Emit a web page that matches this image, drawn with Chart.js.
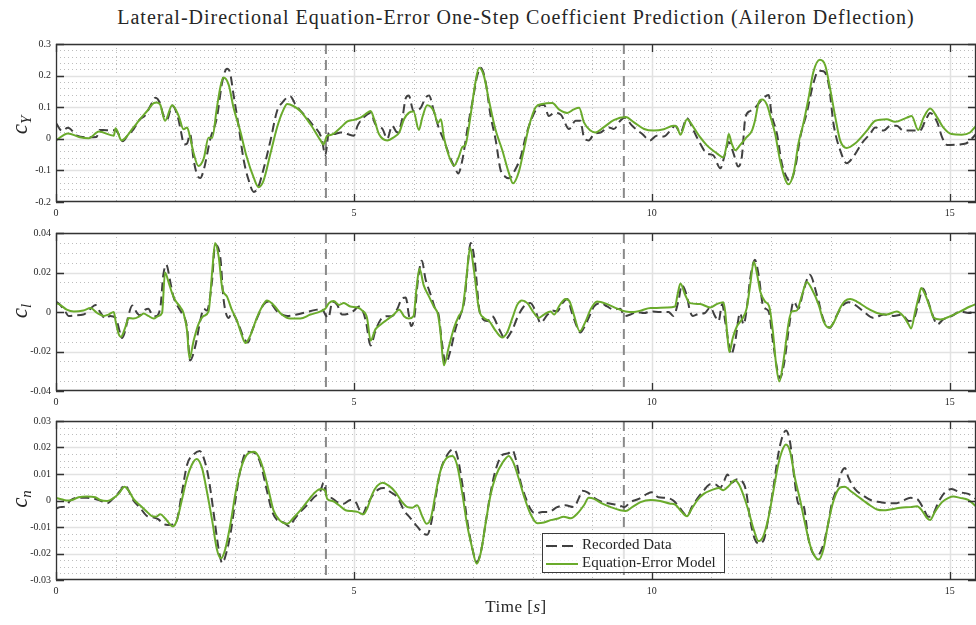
<!DOCTYPE html>
<html>
<head>
<meta charset="utf-8">
<script src="https://cdn.jsdelivr.net/npm/chart.js@4.4.1/dist/chart.umd.min.js"></script>
<style>
  html, body { margin: 0; padding: 0; background: #fff; }
  body { width: 976px; height: 625px; position: relative; overflow: hidden; font-family: 'Liberation Serif', serif; color: #262626; }
  canvas { position: absolute; left: 0; }
  #title { position: absolute; top: 6px; left: 56px; width: 920px; text-align: center; font-size: 20px; letter-spacing: 1px; white-space: nowrap; }
  .ylab { position: absolute; width: 60px; height: 30px; line-height: 30px; text-align: center; font-size: 23px; transform: rotate(-90deg); white-space: nowrap; }
  .ylab sub { font-size: 15px; vertical-align: -4px; }
  #xlab { position: absolute; top: 597px; left: 56px; width: 920px; text-align: center; font-size: 17px; letter-spacing: 0.5px; }
  #legend { position: absolute; left: 542px; top: 533px; width: 183px; height: 40px; border: 1.3px solid #3a3a3a; background: rgba(255,255,255,0.75); box-sizing: border-box; font-size: 15px; }
  #legend .row { position: absolute; left: 3px; height: 18px; line-height: 18px; white-space: nowrap; }
  #legend svg { vertical-align: middle; margin-right: 4px; }
</style>
</head>
<body>
<div id="title">Lateral-Directional Equation-Error One-Step Coefficient Prediction (Aileron Deflection)</div>
<canvas id="cyChart" width="976" height="193" style="top:33px"></canvas>
<canvas id="clChart" width="976" height="193" style="top:222px"></canvas>
<canvas id="cnChart" width="976" height="194" style="top:410px"></canvas>
<div class="ylab" style="left:-10px; top:110px;"><i>c</i><sub><i>Y</i></sub></div>
<div class="ylab" style="left:-10px; top:296px;"><i>c</i><sub><i>l</i></sub></div>
<div class="ylab" style="left:-10px; top:484px;"><i>c</i><sub><i>n</i></sub></div>
<div id="xlab">Time [<i>s</i>]</div>
<div id="legend">
  <div class="row" style="top:1px"><svg width="32" height="10"><line x1="0" y1="5" x2="32" y2="5" stroke="#404040" stroke-width="2" stroke-dasharray="11,5"/></svg>Recorded Data</div>
  <div class="row" style="top:19px"><svg width="32" height="10"><line x1="0" y1="5" x2="32" y2="5" stroke="#6aab2c" stroke-width="2"/></svg>Equation-Error Model</div>
</div>
<script>
// Time axis
const timeMax = 15.44;
const timeTicks = [0, 5, 10, 15];
const timeTickLabels = ['0', '5', '10', '15'];
const segmentBreaks = [4.53, 9.53];

// Side-force coefficient c_Y: [time s, value]
const cyRecorded = [[0,0.05],[0.1,0.025],[0.2,0.035],[0.35,0.01],[0.5,0.005],[0.68,0.006],[0.73,0.028],[0.85,0.027],[1.0,0.027],[1.05,0.015],[1.12,-0.008],[1.2,0.01],[1.3,0.03],[1.4,0.06],[1.5,0.075],[1.6,0.11],[1.67,0.13],[1.75,0.11],[1.8,0.075],[1.86,0.06],[1.95,0.105],[2.05,0.065],[2.1,0.02],[2.15,-0.018],[2.2,-0.015],[2.25,0.015],[2.31,-0.067],[2.37,-0.115],[2.42,-0.124],[2.48,-0.098],[2.59,0.0],[2.7,0.067],[2.79,0.18],[2.87,0.222],[2.92,0.21],[2.98,0.139],[3.06,0.046],[3.15,-0.067],[3.23,-0.129],[3.32,-0.168],[3.4,-0.15],[3.48,-0.098],[3.6,-0.005],[3.71,0.088],[3.79,0.113],[3.93,0.135],[4.02,0.108],[4.16,0.077],[4.3,0.046],[4.46,0.0],[4.52,-0.052],[4.58,0.02],[4.66,0.015],[4.78,0.02],[4.89,0.015],[5.0,0.01],[5.06,0.041],[5.17,0.069],[5.28,0.082],[5.36,0.046],[5.48,0.031],[5.56,0.0],[5.64,0.041],[5.73,0.02],[5.81,0.062],[5.87,0.129],[5.92,0.137],[6.0,0.088],[6.12,0.098],[6.2,0.129],[6.26,0.137],[6.34,0.088],[6.43,0.031],[6.51,-0.005],[6.62,-0.062],[6.71,-0.098],[6.75,-0.11],[6.82,-0.067],[6.9,0.026],[6.99,0.118],[7.07,0.2],[7.13,0.225],[7.21,0.18],[7.29,0.077],[7.38,-0.005],[7.46,-0.098],[7.54,-0.12],[7.6,-0.125],[7.7,-0.1],[7.8,-0.057],[7.88,0.005],[7.99,0.067],[8.1,0.103],[8.19,0.108],[8.27,0.072],[8.36,0.082],[8.47,0.077],[8.61,0.031],[8.72,0.057],[8.8,0.057],[8.86,0.005],[8.94,-0.005],[9.03,0.015],[9.14,0.02],[9.28,0.036],[9.36,0.031],[9.47,0.057],[9.54,0.067],[9.67,0.041],[9.84,0.015],[9.97,-0.005],[10.08,0.01],[10.2,0.007],[10.31,0.026],[10.39,0.041],[10.48,0.02],[10.59,0.065],[10.7,0.026],[10.81,-0.015],[10.92,-0.046],[11.03,-0.052],[11.15,-0.093],[11.23,-0.046],[11.29,-0.01],[11.37,-0.046],[11.45,-0.088],[11.51,-0.057],[11.57,0.067],[11.65,0.088],[11.73,0.098],[11.82,0.118],[11.96,0.139],[12.01,0.077],[12.1,0.015],[12.18,-0.077],[12.27,-0.124],[12.32,-0.134],[12.41,-0.088],[12.49,0.005],[12.6,0.082],[12.71,0.175],[12.8,0.215],[12.88,0.214],[12.97,0.17],[13.05,0.046],[13.16,-0.036],[13.27,-0.077],[13.38,-0.057],[13.52,-0.015],[13.66,0.015],[13.75,0.036],[13.89,0.026],[14.0,0.041],[14.11,0.041],[14.22,0.026],[14.39,0.026],[14.5,0.026],[14.59,0.057],[14.67,0.082],[14.79,0.052],[14.87,0.005],[14.96,-0.02],[15.13,-0.018],[15.27,-0.015],[15.34,-0.005],[15.44,0.015]];
const cyModel = [[0,-0.005],[0.2,0.017],[0.4,0.005],[0.55,0.002],[0.72,0.023],[0.97,0.01],[1.0,0.033],[1.1,-0.005],[1.3,0.036],[1.41,0.062],[1.53,0.088],[1.64,0.113],[1.69,0.115],[1.75,0.108],[1.83,0.057],[1.95,0.106],[2.06,0.072],[2.14,0.03],[2.2,0.036],[2.25,0.005],[2.31,-0.046],[2.39,-0.086],[2.48,-0.062],[2.56,0.003],[2.62,0.003],[2.7,0.098],[2.76,0.165],[2.81,0.194],[2.9,0.17],[2.98,0.098],[3.09,0.026],[3.2,-0.057],[3.32,-0.124],[3.4,-0.153],[3.48,-0.134],[3.6,-0.046],[3.71,0.036],[3.82,0.093],[3.88,0.11],[3.99,0.103],[4.1,0.088],[4.27,0.046],[4.44,-0.005],[4.49,-0.018],[4.55,0.01],[4.61,0.012],[4.78,0.036],[4.89,0.055],[5.0,0.06],[5.11,0.067],[5.2,0.079],[5.28,0.088],[5.34,0.062],[5.42,0.015],[5.56,-0.005],[5.67,0.005],[5.76,0.02],[5.84,0.062],[5.92,0.082],[6.0,0.086],[6.09,0.028],[6.15,0.069],[6.23,0.106],[6.34,0.088],[6.41,0.05],[6.46,0.062],[6.51,0.005],[6.59,-0.052],[6.68,-0.085],[6.76,-0.057],[6.82,-0.026],[6.87,-0.02],[6.96,0.077],[7.04,0.18],[7.1,0.225],[7.18,0.2],[7.27,0.118],[7.38,0.026],[7.49,-0.036],[7.6,-0.108],[7.67,-0.141],[7.77,-0.103],[7.85,-0.036],[7.94,0.041],[8.05,0.1],[8.16,0.11],[8.33,0.113],[8.44,0.093],[8.58,0.082],[8.69,0.093],[8.78,0.098],[8.86,0.052],[8.97,0.026],[9.05,0.02],[9.19,0.036],[9.36,0.059],[9.56,0.069],[9.7,0.052],[9.87,0.031],[10.03,0.026],[10.2,0.03],[10.36,0.041],[10.42,0.038],[10.48,0.013],[10.59,0.062],[10.7,0.036],[10.81,0.005],[10.92,-0.02],[11.09,-0.046],[11.2,-0.059],[11.26,-0.015],[11.29,0.015],[11.34,-0.015],[11.4,-0.036],[11.48,-0.02],[11.59,0.005],[11.68,0.026],[11.73,0.057],[11.79,0.113],[11.85,0.124],[11.93,0.108],[12.01,0.057],[12.07,0.015],[12.15,-0.067],[12.24,-0.129],[12.29,-0.144],[12.38,-0.108],[12.46,-0.015],[12.54,0.046],[12.63,0.129],[12.71,0.211],[12.82,0.25],[12.91,0.232],[12.99,0.16],[13.08,0.067],[13.16,-0.005],[13.27,-0.029],[13.41,-0.015],[13.61,0.026],[13.75,0.057],[13.94,0.062],[14.08,0.054],[14.28,0.067],[14.36,0.072],[14.47,0.028],[14.56,0.067],[14.67,0.096],[14.79,0.067],[14.89,0.036],[15.03,0.015],[15.2,0.013],[15.34,0.02],[15.44,0.041]];
const cyTicks = [-0.2, -0.1, 0, 0.1, 0.2, 0.3];
const cyTickLabels = ['-0.2', '-0.1', '0', '0.1', '0.2', '0.3'];

// Rolling-moment coefficient c_l
const clRecorded = [[0,0.0053],[0.07,0.0036],[0.16,0],[0.21,-0.002],[0.32,-0.0017],[0.46,-0.0013],[0.58,0.0017],[0.66,0.0036],[0.74,0],[0.83,-0.0033],[0.91,-0.002],[1.0,-0.003],[1.08,-0.011],[1.11,-0.0132],[1.16,-0.0096],[1.22,-0.0013],[1.28,0.0033],[1.36,-0.0005],[1.41,-0.0017],[1.5,0.0012],[1.55,0.0017],[1.61,-0.0013],[1.67,-0.0021],[1.75,0.002],[1.8,0.0185],[1.85,0.024],[1.92,0.015],[1.97,0.0078],[2.06,0.002],[2.11,-0.0005],[2.2,-0.008],[2.25,-0.0245],[2.34,-0.017],[2.42,-0.0046],[2.48,0.0017],[2.53,0.0007],[2.62,0.016],[2.67,0.034],[2.76,0.027],[2.81,0.007],[2.9,-0.003],[2.95,-0.0005],[3.06,-0.006],[3.15,-0.013],[3.22,-0.0154],[3.29,-0.0096],[3.4,-0.0013],[3.48,0.0036],[3.57,0.0053],[3.71,0.0003],[3.88,-0.002],[4.04,-0.0013],[4.21,0],[4.38,0.0012],[4.46,0.0017],[4.52,-0.0013],[4.57,-0.003],[4.64,0.0053],[4.72,0.0036],[4.8,-0.0013],[4.89,-0.001],[5.0,0.0007],[5.08,0.0028],[5.14,0.0012],[5.2,-0.0046],[5.28,-0.017],[5.36,-0.0096],[5.45,-0.0038],[5.56,-0.0021],[5.64,-0.0021],[5.73,0.0017],[5.81,0.007],[5.87,0.0073],[5.92,-0.0013],[5.96,-0.0071],[6.02,-0.0013],[6.07,0.015],[6.14,0.026],[6.2,0.0168],[6.29,0.0086],[6.37,0.0012],[6.42,-0.0013],[6.48,-0.0162],[6.54,-0.026],[6.62,-0.0195],[6.71,-0.008],[6.79,-0.0013],[6.86,0.007],[6.9,0.0202],[6.96,0.035],[7.03,0.025],[7.1,0.002],[7.15,-0.003],[7.24,-0.0046],[7.32,-0.0021],[7.44,-0.0088],[7.54,-0.0137],[7.66,-0.0088],[7.74,-0.003],[7.85,0.0028],[7.96,0.0045],[8.05,0.0003],[8.13,-0.0055],[8.25,-0.0013],[8.33,0.0007],[8.41,0.0003],[8.5,0.0045],[8.58,0.0066],[8.66,-0.0005],[8.75,-0.008],[8.8,-0.0104],[8.86,-0.008],[8.94,-0.003],[9.03,0.0028],[9.14,0.0045],[9.25,0.0028],[9.36,0.0012],[9.47,0.0017],[9.54,-0.0021],[9.64,-0.0013],[9.75,0],[9.87,-0.0005],[9.98,0.0003],[10.14,0],[10.28,0],[10.36,-0.002],[10.45,0.0061],[10.5,0.0136],[10.59,0.0078],[10.64,0.0003],[10.69,-0.002],[10.78,-0.001],[10.89,-0.0005],[10.98,0.0023],[11.06,-0.0021],[11.12,-0.0046],[11.18,0.004],[11.23,-0.0046],[11.29,-0.016],[11.33,-0.0215],[11.4,-0.0145],[11.48,-0.0005],[11.54,-0.0063],[11.59,0.0012],[11.65,0.0168],[11.73,0.0264],[11.79,0.019],[11.87,0.0028],[11.96,0.0003],[12.03,-0.0145],[12.11,-0.03],[12.15,-0.0335],[12.22,-0.026],[12.3,-0.008],[12.38,0.0053],[12.46,0.0017],[12.54,0.0102],[12.65,0.0188],[12.77,0.0086],[12.88,-0.0038],[12.99,-0.008],[13.08,-0.003],[13.19,0.0028],[13.3,0.005],[13.41,0.0036],[13.55,0.0003],[13.72,-0.003],[13.89,-0.0013],[14.06,-0.002],[14.2,-0.0013],[14.31,-0.0046],[14.39,-0.0038],[14.48,0.0053],[14.55,0.0119],[14.62,0.007],[14.7,-0.0005],[14.79,-0.0063],[14.89,-0.0038],[15.03,-0.0021],[15.18,0.0003],[15.32,-0.0005],[15.44,0.0007]];
const clModel = [[0,0.0045],[0.07,0.0036],[0.18,0.0012],[0.3,0.0003],[0.46,0.0008],[0.58,0.002],[0.69,-0.0005],[0.8,-0.002],[0.88,-0.0013],[0.97,0],[1.0,-0.0046],[1.05,-0.011],[1.09,-0.0126],[1.16,-0.008],[1.22,-0.003],[1.3,-0.0033],[1.41,-0.002],[1.47,-0.0008],[1.55,-0.002],[1.64,-0.0033],[1.72,-0.002],[1.78,-0.0005],[1.83,0.02],[1.89,0.015],[1.95,0.0094],[2.0,0.006],[2.09,0.0023],[2.14,-0.0005],[2.2,-0.0096],[2.24,-0.0235],[2.31,-0.0145],[2.39,-0.0063],[2.48,-0.002],[2.56,0.0003],[2.62,0.02],[2.67,0.035],[2.73,0.028],[2.79,0.012],[2.87,0.0078],[2.95,0.0012],[3.04,-0.0046],[3.12,-0.012],[3.18,-0.0157],[3.26,-0.012],[3.37,-0.003],[3.46,0.0028],[3.54,0.0058],[3.65,0.0036],[3.79,-0.0013],[3.93,-0.0033],[4.1,-0.0033],[4.27,-0.0013],[4.44,0.0003],[4.52,0.0017],[4.58,0.0045],[4.66,0.0056],[4.75,0.0036],[4.83,0.0045],[4.94,0.0028],[5.06,0.0023],[5.14,0.0007],[5.22,-0.003],[5.28,-0.0145],[5.36,-0.0088],[5.45,-0.0063],[5.56,-0.0038],[5.67,-0.0013],[5.76,0.0012],[5.84,-0.0021],[5.92,-0.0033],[6.0,-0.0021],[6.05,0.012],[6.1,0.022],[6.17,0.0136],[6.26,0.0078],[6.34,0.0028],[6.41,-0.0013],[6.45,-0.0096],[6.51,-0.027],[6.59,-0.018],[6.68,-0.008],[6.76,-0.002],[6.82,0.0012],[6.88,0.015],[6.95,0.0326],[7.01,0.022],[7.1,0.0012],[7.18,-0.003],[7.27,-0.0046],[7.38,-0.0096],[7.49,-0.0129],[7.57,-0.0104],[7.66,-0.003],[7.74,0.0036],[7.82,0.0058],[7.91,0.0045],[8.02,-0.0005],[8.1,-0.003],[8.19,-0.0013],[8.3,0.0003],[8.36,-0.0013],[8.44,0.0028],[8.55,0.0066],[8.62,0.0053],[8.69,-0.0013],[8.79,-0.0098],[8.89,-0.0046],[8.97,0.0012],[9.08,0.0053],[9.25,0.004],[9.42,0.0017],[9.56,0.0003],[9.7,0],[9.81,0.0007],[9.98,0.002],[10.03,0.002],[10.25,0.0023],[10.39,0.0028],[10.43,0.0086],[10.48,0.0144],[10.56,0.0086],[10.64,0.0045],[10.81,0.004],[10.98,0.0023],[11.09,0.004],[11.2,0.005],[11.23,0.0003],[11.27,-0.0129],[11.3,-0.0203],[11.36,-0.0129],[11.43,-0.0071],[11.51,-0.0038],[11.59,0.0017],[11.65,0.0136],[11.71,0.0255],[11.77,0.0185],[11.82,0.0102],[11.9,0.0053],[11.97,0.0028],[12.03,-0.0096],[12.09,-0.0278],[12.14,-0.0352],[12.21,-0.0245],[12.3,-0.0046],[12.35,0.0003],[12.43,0.0007],[12.52,0.0086],[12.6,0.0152],[12.68,0.0119],[12.8,0.0036],[12.88,-0.0046],[12.97,-0.0079],[13.05,-0.0055],[13.16,0.002],[13.24,0.0056],[13.33,0.0066],[13.44,0.0053],[13.61,0.002],[13.78,-0.0005],[13.94,-0.0013],[14.11,0.0003],[14.22,-0.0021],[14.31,-0.0063],[14.35,-0.0083],[14.42,0.0003],[14.48,0.0078],[14.52,0.0122],[14.59,0.0086],[14.67,0.002],[14.73,-0.003],[14.84,-0.0038],[15.01,-0.0021],[15.18,0.0003],[15.34,0.0028],[15.44,0.004]];
const clTicks = [-0.04, -0.02, 0, 0.02, 0.04];
const clTickLabels = ['-0.04', '-0.02', '0', '0.02', '0.04'];

// Yawing-moment coefficient c_n
const cnRecorded = [[0,-0.003],[0.07,-0.0025],[0.16,-0.0022],[0.24,0],[0.35,0.001],[0.52,0.001],[0.66,0.0006],[0.74,0],[0.86,-0.001],[0.97,0.001],[1.08,0.0037],[1.15,0.0059],[1.22,0.0037],[1.3,0],[1.41,-0.0027],[1.53,-0.0059],[1.64,-0.0064],[1.72,-0.0071],[1.8,-0.0088],[1.88,-0.0092],[1.97,-0.009],[2.03,-0.0074],[2.11,0.0025],[2.2,0.0135],[2.31,0.0174],[2.41,0.0187],[2.48,0.016],[2.56,0.0086],[2.64,-0.0037],[2.73,-0.0184],[2.79,-0.0236],[2.86,-0.0196],[2.93,-0.0123],[3.01,0],[3.09,0.011],[3.2,0.0184],[3.32,0.0181],[3.43,0.0141],[3.54,0.0037],[3.62,-0.0037],[3.71,-0.0074],[3.82,-0.0083],[3.92,-0.0098],[3.99,-0.0074],[4.1,-0.0043],[4.21,-0.0018],[4.32,0.001],[4.44,0.0037],[4.49,0.0067],[4.55,0.0012],[4.61,0.001],[4.72,-0.0006],[4.83,-0.0012],[4.94,0.0002],[5.03,-0.0006],[5.14,-0.0052],[5.22,-0.0018],[5.31,0.0018],[5.42,0.0043],[5.5,0.0047],[5.62,0.0031],[5.73,0.0012],[5.84,-0.0037],[5.95,-0.0067],[6.06,-0.0098],[6.17,-0.0125],[6.23,-0.0129],[6.29,-0.0092],[6.37,0.0012],[6.45,0.011],[6.55,0.0166],[6.67,0.0194],[6.73,0.0172],[6.82,0.0061],[6.9,-0.0074],[6.99,-0.0184],[7.06,-0.0233],[7.14,-0.0184],[7.21,-0.0086],[7.29,0.0025],[7.38,0.0117],[7.49,0.0172],[7.59,0.0178],[7.66,0.019],[7.72,0.0153],[7.8,0.0067],[7.88,0.0012],[7.96,-0.0031],[8.05,-0.0049],[8.16,-0.0043],[8.27,-0.0043],[8.41,-0.0025],[8.55,-0.0018],[8.69,-0.0025],[8.78,0.0012],[8.83,0.0037],[8.92,0.0031],[9.03,0.001],[9.17,-0.0006],[9.31,-0.0012],[9.45,-0.0018],[9.54,-0.0025],[9.64,-0.0006],[9.78,0.0006],[9.92,0.0025],[10.0,0.0031],[10.11,0.0012],[10.25,0.001],[10.36,0],[10.5,-0.0037],[10.59,-0.0059],[10.67,-0.0025],[10.76,0.0006],[10.87,0.0037],[10.98,0.0061],[11.06,0.0061],[11.15,0.0049],[11.2,0.0067],[11.27,0.0098],[11.34,0.0067],[11.43,0.008],[11.51,0.0074],[11.58,0.0037],[11.65,-0.0074],[11.73,-0.0147],[11.79,-0.0162],[11.87,-0.0153],[11.96,-0.0061],[12.04,0.0049],[12.12,0.0172],[12.18,0.0233],[12.25,0.0264],[12.32,0.022],[12.39,0.0086],[12.46,-0.0012],[12.54,-0.0018],[12.63,-0.0147],[12.71,-0.0202],[12.77,-0.0209],[12.85,-0.0184],[12.94,-0.011],[13.02,-0.0012],[13.1,0.0043],[13.19,0.011],[13.24,0.0123],[13.3,0.0086],[13.41,0.0043],[13.55,0.0018],[13.69,0],[13.83,-0.0006],[13.97,-0.001],[14.11,-0.001],[14.22,0],[14.34,0.001],[14.45,0.0006],[14.56,-0.0031],[14.64,-0.0061],[14.71,-0.0055],[14.81,-0.0006],[14.92,0.0031],[15.03,0.0043],[15.17,0.0031],[15.31,0.0025],[15.44,0.0006]];
const cnModel = [[0,0.001],[0.07,0.0006],[0.18,0],[0.27,0.0002],[0.38,0.0012],[0.52,0.0015],[0.66,0.0012],[0.74,0.0002],[0.86,-0.0002],[0.97,0.001],[1.05,0.0025],[1.15,0.0052],[1.22,0.0037],[1.3,0.0006],[1.41,-0.0018],[1.53,-0.0043],[1.61,-0.0059],[1.68,-0.0061],[1.75,-0.0052],[1.83,-0.0067],[1.92,-0.0092],[1.96,-0.0098],[2.03,-0.0074],[2.11,0],[2.2,0.0086],[2.28,0.0135],[2.36,0.0157],[2.45,0.0123],[2.53,0.0037],[2.62,-0.0074],[2.7,-0.0184],[2.77,-0.0218],[2.84,-0.0184],[2.93,-0.0086],[3.01,0.0025],[3.09,0.011],[3.2,0.0172],[3.32,0.0184],[3.4,0.0166],[3.48,0.0117],[3.57,0.0037],[3.65,-0.0037],[3.76,-0.0076],[3.88,-0.0088],[3.99,-0.0064],[4.1,-0.0037],[4.21,-0.0006],[4.35,0.0031],[4.44,0.0043],[4.52,0.0037],[4.55,0.0006],[4.64,-0.0002],[4.75,-0.0018],[4.86,-0.0037],[4.97,-0.004],[5.06,-0.0043],[5.16,-0.0052],[5.22,-0.0031],[5.31,0.0025],[5.39,0.0055],[5.48,0.0067],[5.59,0.0055],[5.7,0.0031],[5.81,-0.0006],[5.9,-0.0025],[5.98,-0.0027],[6.06,-0.0018],[6.15,-0.0061],[6.22,-0.0088],[6.29,-0.0067],[6.37,0.0025],[6.45,0.011],[6.55,0.0159],[6.65,0.0168],[6.73,0.0135],[6.82,0.0025],[6.9,-0.0092],[6.99,-0.0184],[7.06,-0.0239],[7.13,-0.0196],[7.21,-0.0086],[7.29,0.0018],[7.38,0.0092],[7.49,0.0141],[7.6,0.0168],[7.68,0.0141],[7.77,0.008],[7.86,0.0012],[7.96,-0.0049],[8.08,-0.0086],[8.19,-0.0083],[8.3,-0.0074],[8.41,-0.0069],[8.52,-0.0061],[8.64,-0.0067],[8.75,-0.0049],[8.86,-0.0018],[8.94,0.001],[9.03,0.0006],[9.17,-0.0012],[9.31,-0.0025],[9.47,-0.0037],[9.56,-0.004],[9.67,-0.0025],[9.81,-0.0006],[9.98,0.0002],[10.14,-0.0002],[10.31,-0.0012],[10.39,-0.0015],[10.5,-0.0043],[10.59,-0.0059],[10.67,-0.0031],[10.76,0],[10.87,0.0025],[11.0,0.0039],[11.12,0.0047],[11.2,0.0039],[11.29,0.0055],[11.39,0.0076],[11.46,0.0061],[11.54,0.0018],[11.62,-0.0037],[11.71,-0.011],[11.79,-0.0153],[11.87,-0.0135],[11.96,-0.0061],[12.04,0.0037],[12.12,0.0135],[12.18,0.0184],[12.25,0.0211],[12.32,0.0184],[12.4,0.0086],[12.49,0],[12.57,-0.0086],[12.66,-0.0172],[12.73,-0.0209],[12.8,-0.0223],[12.88,-0.0184],[12.96,-0.0086],[13.05,0],[13.16,0.0049],[13.24,0.0052],[13.33,0.0037],[13.44,0.0018],[13.55,0],[13.66,-0.0018],[13.78,-0.0034],[13.89,-0.0037],[14.0,-0.0034],[14.17,-0.0027],[14.34,-0.0025],[14.45,-0.0022],[14.53,-0.0037],[14.61,-0.0064],[14.67,-0.0074],[14.75,-0.0043],[14.87,-0.0006],[14.98,0.001],[15.06,0.0015],[15.17,0.001],[15.31,0.0002],[15.44,-0.0022]];
const cnTicks = [-0.03, -0.02, -0.01, 0, 0.01, 0.02, 0.03];
const cnTickLabels = ['-0.03', '-0.02', '-0.01', '0', '0.01', '0.02', '0.03'];

const recordedColor = '#404040';
const modelColor = '#6aab2c';

Chart.defaults.font.family = "'Liberation Serif', serif";
Chart.defaults.color = '#262626';

// Grid, segment markers and the axes box with inward ticks
const axesDecor = {
  id: 'axesDecor',
  beforeDatasetsDraw(chart, args, opts) {
    const { ctx, chartArea: a, scales: { x, y } } = chart;
    ctx.save();
    ctx.beginPath();
    ctx.rect(a.left, a.top, a.right - a.left, a.bottom - a.top);
    ctx.clip();
    const hLine = (v) => { const p = Math.round(y.getPixelForValue(v)) + 0.5; ctx.beginPath(); ctx.moveTo(a.left, p); ctx.lineTo(a.right, p); ctx.stroke(); };
    const vLine = (v) => { const p = Math.round(x.getPixelForValue(v)) + 0.5; ctx.beginPath(); ctx.moveTo(p, a.top); ctx.lineTo(p, a.bottom); ctx.stroke(); };
    // minor dotted grid
    ctx.strokeStyle = '#bdbdbd';
    ctx.lineWidth = 1;
    ctx.setLineDash([1, 3]);
    const nMinor = Math.round((y.max - y.min) / opts.yMinor);
    for (let i = 1; i < nMinor; i++) hLine(y.min + i * opts.yMinor);
    for (let t = 1; t < x.max; t++) if (t % 5 !== 0) vLine(t);
    // major solid grid
    ctx.setLineDash([]);
    ctx.strokeStyle = '#e2e2e2';
    ctx.lineWidth = 1.5;
    opts.yMajor.forEach(hLine);
    timeTicks.forEach(vLine);
    // segment boundaries
    ctx.strokeStyle = '#8a8a8a';
    ctx.lineWidth = 2;
    ctx.setLineDash([10, 6]);
    segmentBreaks.forEach((t) => { const p = x.getPixelForValue(t); ctx.beginPath(); ctx.moveTo(p, a.top); ctx.lineTo(p, a.bottom); ctx.stroke(); });
    ctx.restore();
  },
  afterDatasetsDraw(chart, args, opts) {
    const { ctx, chartArea: a, scales: { x, y } } = chart;
    ctx.save();
    ctx.strokeStyle = '#333333';
    ctx.lineWidth = 1.3;
    ctx.beginPath();
    ctx.moveTo(a.right, a.top + 0.5); ctx.lineTo(a.left + 0.5, a.top + 0.5);
    ctx.lineTo(a.left + 0.5, a.bottom - 0.5); ctx.lineTo(a.right, a.bottom - 0.5);
    ctx.moveTo(a.right - 0.5, a.top); ctx.lineTo(a.right - 0.5, a.bottom);
    ctx.stroke();
    const tl = 8;
    ctx.beginPath();
    timeTicks.forEach((t) => {
      const p = Math.round(x.getPixelForValue(t)) + 0.5;
      ctx.moveTo(p, a.bottom); ctx.lineTo(p, a.bottom - tl);
      ctx.moveTo(p, a.top); ctx.lineTo(p, a.top + tl);
    });
    opts.yMajor.forEach((v) => {
      const p = Math.round(y.getPixelForValue(v)) + 0.5;
      ctx.moveTo(a.left, p); ctx.lineTo(a.left + tl, p);
      ctx.moveTo(a.right, p); ctx.lineTo(a.right - tl, p);
    });
    ctx.stroke();
    ctx.restore();
  }
};

function makePanel(id, recorded, model, ticks, tickLabels, minorStep) {
  const toPts = (arr) => arr.map(([t, v]) => ({ x: t, y: v }));
  return new Chart(document.getElementById(id), {
    type: 'line',
    data: {
      datasets: [
        { label: 'Equation-Error Model', data: toPts(model), borderColor: modelColor, borderWidth: 2, pointRadius: 0, cubicInterpolationMode: 'monotone', fill: false },
        { label: 'Recorded Data', data: toPts(recorded), borderColor: recordedColor, borderWidth: 2, borderDash: [9, 5], pointRadius: 0, cubicInterpolationMode: 'monotone', fill: false }
      ]
    },
    options: {
      responsive: false,
      animation: false,
      devicePixelRatio: 1,
      layout: { padding: { top: 8, left: 0, right: 0, bottom: 0 } },
      plugins: {
        legend: { display: false },
        tooltip: { enabled: false },
        axesDecor: { yMinor: minorStep, yMajor: ticks }
      },
      scales: {
        x: {
          type: 'linear', min: 0, max: timeMax,
          afterBuildTicks: (s) => { s.ticks = timeTicks.map((v) => ({ value: v })); },
          afterFit: (s) => { s.height = 24; },
          grid: { display: false, drawTicks: false },
          border: { display: false },
          ticks: { padding: 5, maxRotation: 0, font: { size: 10 }, callback: (v) => timeTickLabels[timeTicks.indexOf(v)] }
        },
        y: {
          type: 'linear', min: ticks[0], max: ticks[ticks.length - 1],
          afterBuildTicks: (s) => { s.ticks = ticks.map((v) => ({ value: v })); },
          afterFit: (s) => { s.width = 56; },
          grid: { display: false, drawTicks: false },
          border: { display: false },
          ticks: { padding: 5, font: { size: 10 }, callback: (v) => tickLabels[ticks.findIndex((t) => Math.abs(t - v) < 1e-9)] }
        }
      }
    },
    plugins: [axesDecor]
  });
}

makePanel('cyChart', cyRecorded, cyModel, cyTicks, cyTickLabels, 0.02);
makePanel('clChart', clRecorded, clModel, clTicks, clTickLabels, 0.005);
makePanel('cnChart', cnRecorded, cnModel, cnTicks, cnTickLabels, 0.0025);
</script>
</body>
</html>
